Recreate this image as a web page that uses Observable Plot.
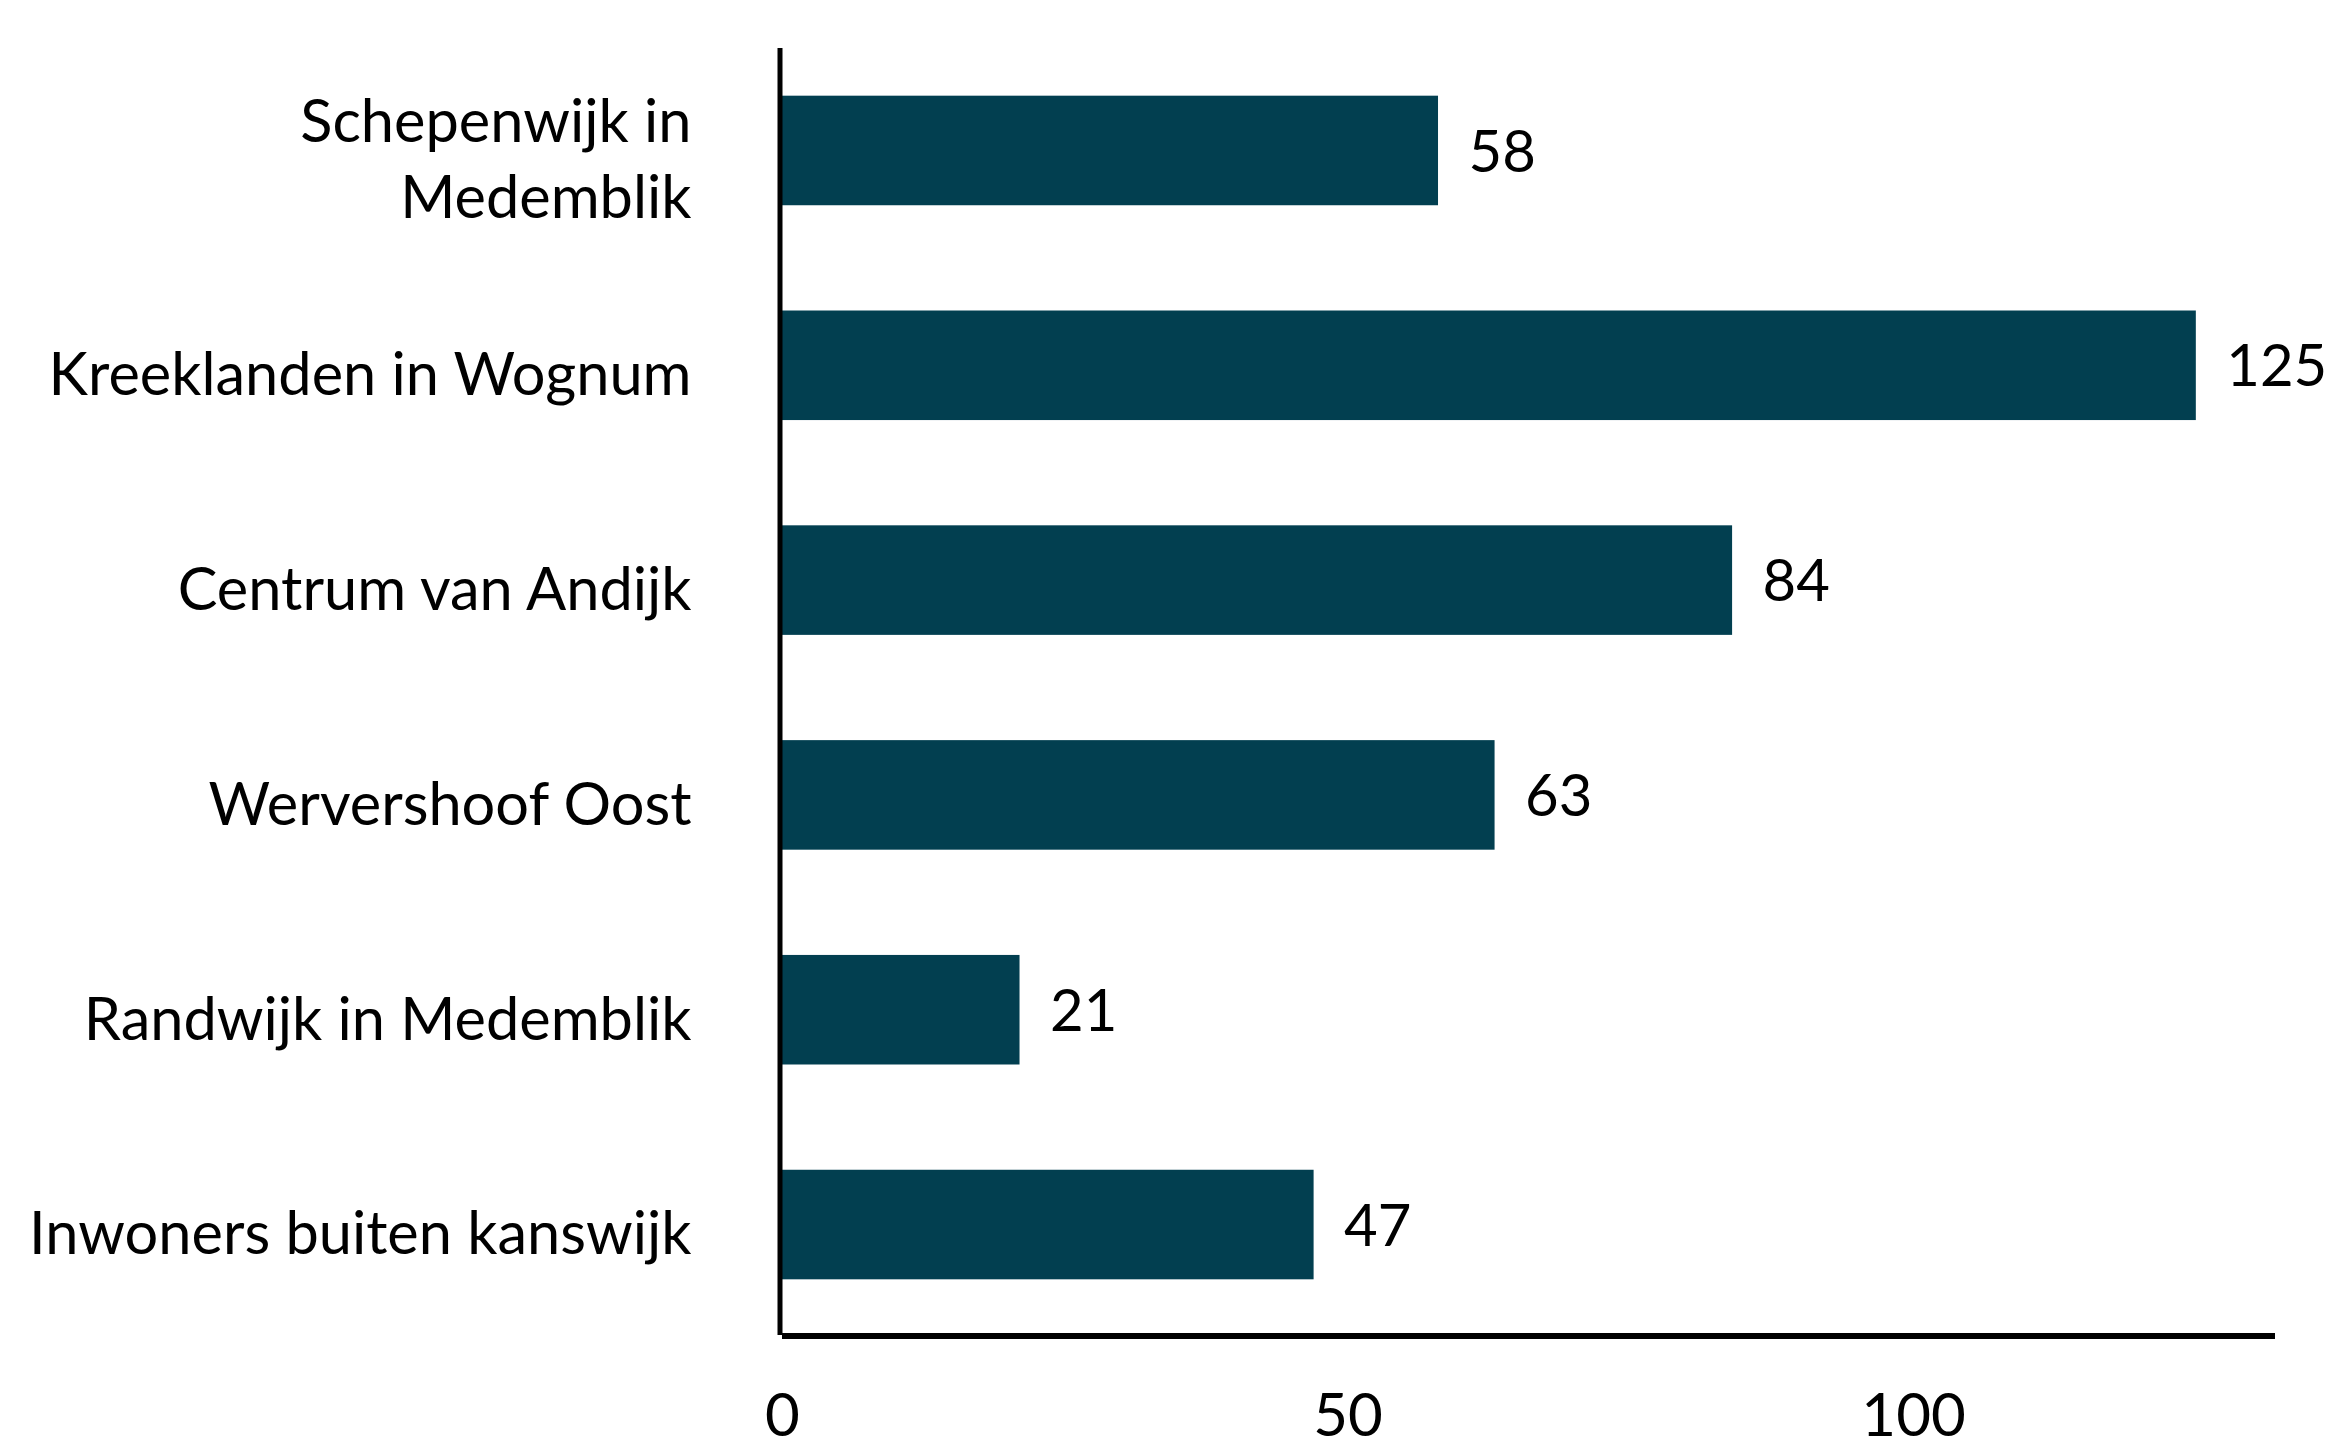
<!DOCTYPE html>
<html>
<head>
<meta charset="utf-8">
<script src="https://cdn.jsdelivr.net/npm/d3@7"></script>
<script src="https://cdn.jsdelivr.net/npm/@observablehq/plot@0.6"></script>
<style>
  html, body { margin: 0; padding: 0; background: #ffffff; }
  #chart svg { display: block; }
</style>
</head>
<body>
<div id="chart"></div>
<script>
const categories = [
  "Schepenwijk in\nMedemblik",
  "Kreeklanden in Wognum",
  "Centrum van Andijk",
  "Wervershoof Oost",
  "Randwijk in Medemblik",
  "Inwoners buiten kanswijk"
];
const values = [58, 125, 84, 63, 21, 47];
const xTicks = [0, 50, 100];

const data = categories.map((c, i) => ({category: c, value: values[i]}));
const lastCategory = categories[categories.length - 1];
const xMax = 132;

const chart = Plot.plot({
  width: 2332,
  height: 1440,
  marginTop: 48,
  marginBottom: 105,
  marginLeft: 782,
  marginRight: 57,
  style: {fontFamily: "Lato, sans-serif", fontSize: "60px", color: "#000", background: "#fff"},
  x: {domain: [0, xMax], ticks: xTicks},
  y: {domain: categories, range: [48, 1327], paddingInner: 0.49, paddingOuter: 0.222, round: false},
  marks: [
    Plot.barX(data, {y: "category", x: "value", fill: "#023F50"}),
    Plot.text(data, {y: "category", x: "value", text: d => String(d.value), textAnchor: "start", dx: 30, dy: 2, fontSize: 58, fill: "#000"}),
    Plot.ruleX([0], {stroke: "#000", strokeWidth: 5, dx: -2.5}),
    Plot.ruleY([lastCategory], {x1: 0, x2: xMax, dy: 111, stroke: "#000", strokeWidth: 6}),
    Plot.axisY({tickSize: 0, tickPadding: 91, label: null, fontSize: 59.5, lineHeight: 1.28, dy: 5}),
    Plot.axisX({ticks: xTicks, tickSize: 0, tickPadding: 58, label: null, fontSize: 60})
  ]
});
document.getElementById("chart").appendChild(chart);
</script>
</body>
</html>
